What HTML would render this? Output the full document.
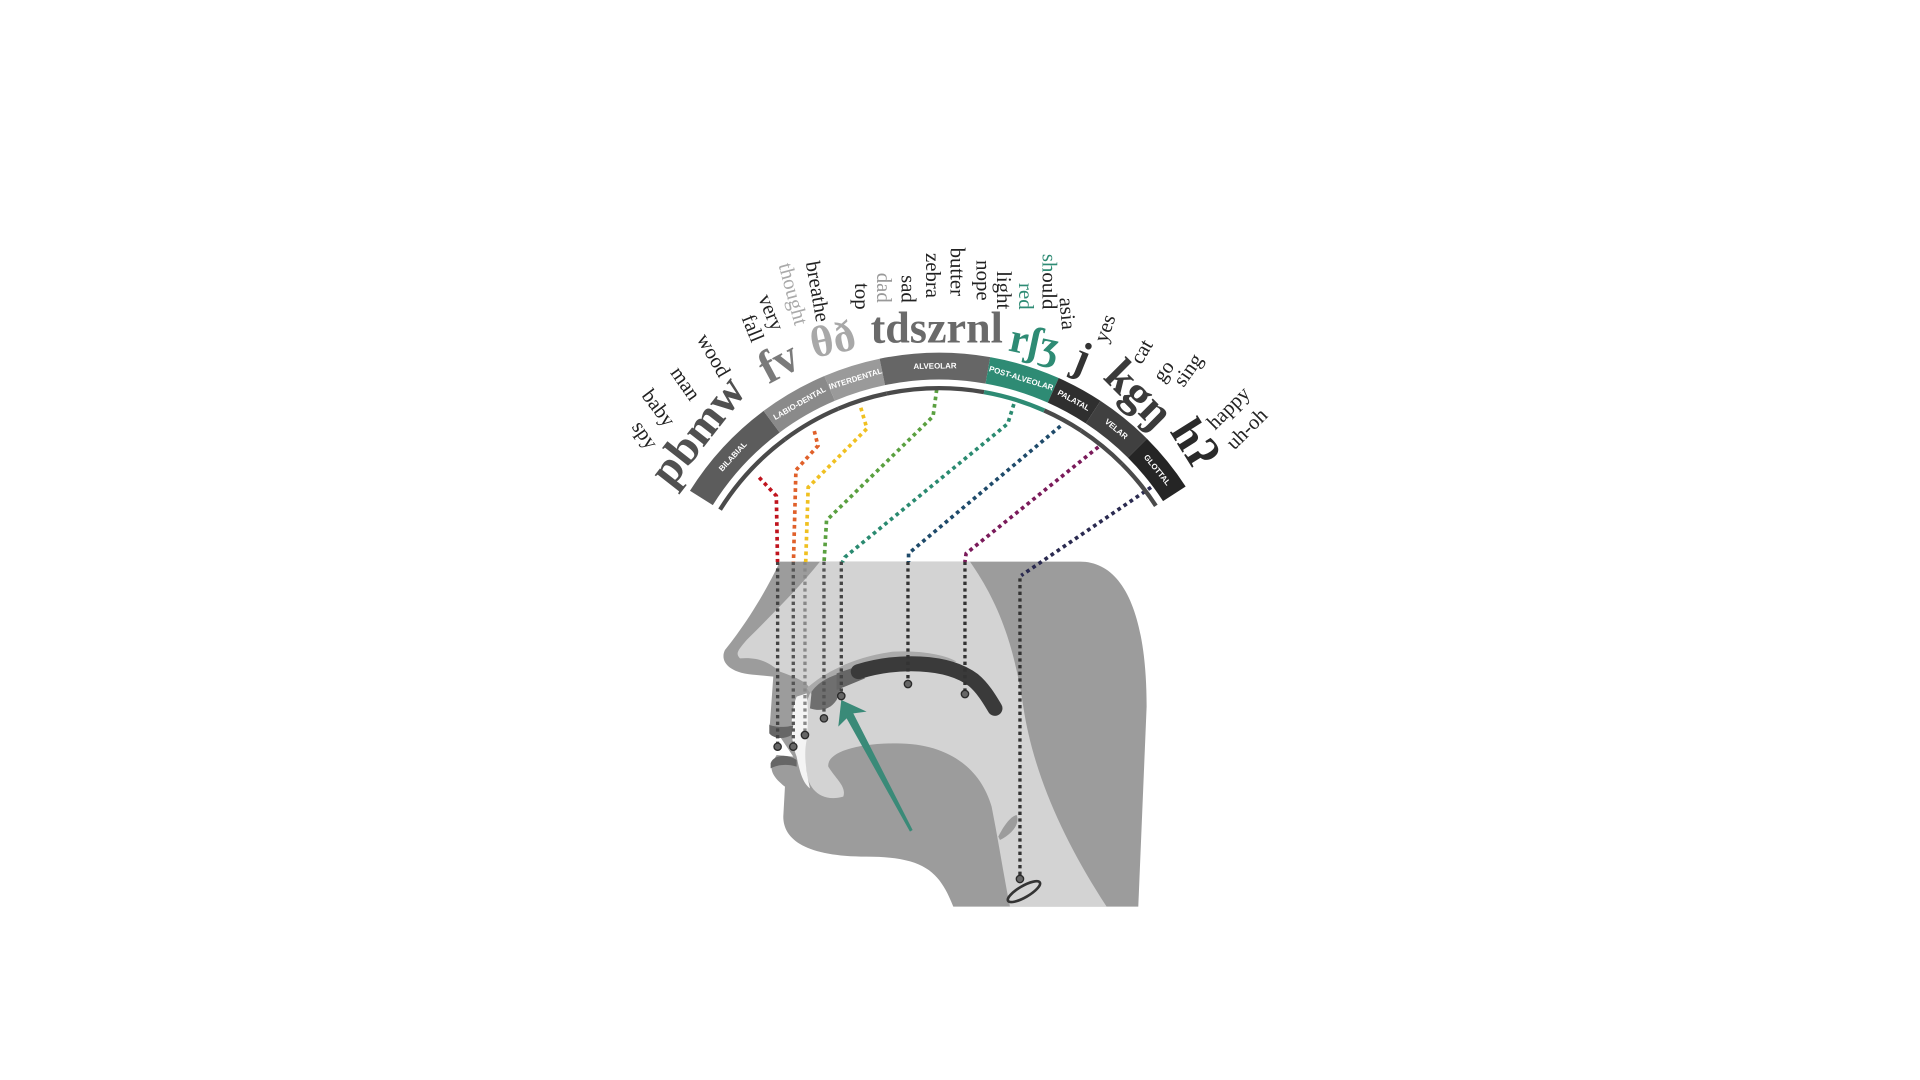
<!DOCTYPE html>
<html><head><meta charset="utf-8"><style>
html,body{margin:0;padding:0;background:#fff;width:1920px;height:1080px;overflow:hidden}
svg{display:block}
</style></head><body>
<svg id="chart" width="1920" height="1080" viewBox="0 0 1568 882" xmlns="http://www.w3.org/2000/svg">
<g id="head" transform="translate(555.3,441) scale(0.27222)">
  <path fill="#9c9c9c" d="M300,65 H1200 C1330,65 1400,220 1400,500 L1375,1100 H820 C780,1000 740,950 560,950 C380,950 310,900 310,830 L315,740 C290,720 270,700 275,670 L290,645 L340,650 L300,590 C270,580 265,560 270,550 L280,410 L230,405 C140,400 120,360 135,330 C200,250 260,150 300,65 Z"/>
  <path fill="#d3d3d3" d="M420,65 H870 C950,180 1000,300 1030,500 C1060,700 1150,900 1280,1100 H990 C970,1000 955,900 935,800 C900,680 800,610 650,610 C520,610 440,640 445,680 C470,720 500,740 490,770 C420,790 380,740 380,690 C350,650 340,600 360,540 L390,460 C400,430 340,410 300,395 C270,370 240,350 180,355 C165,340 175,330 200,300 C280,220 360,140 420,65 Z"/>
  <path fill="#9c9c9c" d="M955,890 C970,860 990,830 1010,825 C1020,850 1000,880 960,900 Z"/>
  <path fill="#f4f4f4" d="M350,470 C330,520 330,600 350,650 C360,700 370,730 390,745 C380,700 370,650 380,600 C385,550 385,500 380,460 Z"/>
  <path fill="#aaaaaa" d="M380,445 C430,400 520,350 640,335 C720,330 800,345 830,365 L560,390 C500,400 440,430 400,470 Z"/>
  <path fill="#6f6f6f" d="M395,455 C420,420 460,405 500,395 L470,480 C450,510 420,515 390,505 Z"/>
  <path fill="#666" d="M470,400 L530,380 L555,415 L470,450 Z"/>
  <path fill="none" stroke="#3a3a3a" stroke-width="45" stroke-linecap="round" d="M535,395 C650,360 800,360 880,420 C910,445 930,480 945,505"/>
  <path fill="#666" d="M268,555 C300,565 330,560 340,555 L335,585 C310,600 280,595 268,580 Z"/>
  <path fill="#666" d="M272,670 C280,645 320,640 350,660 L350,680 C320,670 290,675 272,685 Z"/>
  <path fill="#3a8a78" d="M698,870 L520,520 L560,515 L484,480 L475,560 L500,535 L690,875 Z"/>
  <ellipse cx="1032" cy="1055" rx="55" ry="17" fill="none" stroke="#333" stroke-width="8" transform="rotate(-30 1032 1055)"/>
  <g id="headlines"></g>
</g>
<g id="connectors"></g>
<g id="band"></g>
<g id="labels"></g>
</svg>
<script>
const NS='http://www.w3.org/2000/svg';
const segNames=['BILABIAL','LABIO-DENTAL','INTERDENTAL','ALVEOLAR','POST-ALVEOLAR','PALATAL','VELAR','GLOTTAL'];
const segStart=[148,126.7,113,101.7,80,66,56.7,45];
const segEnd=[126.7,113,101.7,80,66,56.7,45,33];
const segColors=['#5c5c5c','#8a8a8a','#9a9a9a','#666666','#2e8b74','#2f2f2f','#404040','#252525'];
const phonemes=['pbmw','fv','θð','tdszrnl','rʃʒ','j','kgŋ','hʔ'];
const phX=[570,636,680,765,845,884,930,975];
const phY=[352,296,277,268,280,292,322,362];
const phRot=[-52,-28,-12,0,12,22,45,58];
const phSize=[38,38,36,36,34,36,38,38];
const phColor=['#505050','#7a7a7a','#a8a8a8','#6a6a6a','#2e8b74','#333','#3a3a3a','#2a2a2a'];
const words=['spy','baby','man','wood','fall','very','thought','breathe','top','dad','sad','zebra','butter','nope','light','red','should','asia','yes','cat','go','sing','happy','uh-oh'];
const wX=[527,538,560,583,615,630,648,668,704,722,742,762,782,803,820,838,857,872,902,932,950,970,1003,1018];
const wY=[355,333,313,290,268,255,240,238,242,235,236,225,222,229,237,242,230,256,268,287,303,302,333,350];
const wRot=[55,53,55,60,68,68,75,80,90,90,90,90,90,90,90,90,90,85,-70,-60,-55,-55,-45,-45];
const wColor=['#222','#222','#222','#222','#222','#222','#aaa','#222','#222','#999','#222','#222','#222','#222','#222','#2e8b74','#222','#222','#222','#222','#222','#222','#222','#222'];
const cx=767,cy=528,R1=240,R0=218,RL=211;
function pt(r,a){const t=a*Math.PI/180;return [cx+r*Math.cos(t),cy-r*Math.sin(t)];}
function sector(a0,a1){const p1=pt(R1,a0),p2=pt(R1,a1),p3=pt(R0,a1),p4=pt(R0,a0);
return `M${p1} A${R1},${R1} 0 0 1 ${p2} L${p3} A${R0},${R0} 0 0 0 ${p4} Z`;}
const band=document.getElementById('band');
segNames.forEach((n,i)=>{
  const p=document.createElementNS(NS,'path');
  p.setAttribute('d',sector(segStart[i],segEnd[i]));
  p.setAttribute('fill',segColors[i]);
  
  
  band.appendChild(p);
  const l=document.createElementNS(NS,'path');
  const q1=pt(RL,segStart[i]),q2=pt(RL,segEnd[i]);
  l.setAttribute('d',`M${q1} A${RL},${RL} 0 0 1 ${q2}`);
  l.setAttribute('fill','none');l.setAttribute('stroke',i===4?'#2e8b74':'#4a4a4a');l.setAttribute('stroke-width','3.5');
  
  
  band.appendChild(l);
  const m=(segStart[i]+segEnd[i])/2,c=pt(229,m);
  const t=document.createElementNS(NS,'text');
  t.setAttribute('x',c[0]);t.setAttribute('y',c[1]);
  t.setAttribute('text-anchor','middle');t.setAttribute('dominant-baseline','central');
  t.setAttribute('font-family','Liberation Sans, sans-serif');t.setAttribute('font-size','6.5');t.setAttribute('font-weight','bold');
  t.setAttribute('fill','#fff');t.setAttribute('transform',`rotate(${90-m} ${c[0]} ${c[1]})`);
  t.textContent=n;
  
  
  band.appendChild(t);
});
const labels=document.getElementById('labels');
phonemes.forEach((s,i)=>{
  const t=document.createElementNS(NS,'text');
  t.setAttribute('x',phX[i]);t.setAttribute('y',phY[i]);
  t.setAttribute('text-anchor','middle');t.setAttribute('dominant-baseline','central');
  t.setAttribute('transform',`rotate(${phRot[i]} ${phX[i]} ${phY[i]})`);
  t.setAttribute('font-family','Liberation Serif, DejaVu Serif, serif');t.setAttribute('font-weight','bold');
  t.setAttribute('font-size',phSize[i]);t.setAttribute('fill',phColor[i]);
  t.textContent=s;
  
  
  labels.appendChild(t);
});
words.forEach((w,i)=>{
  const t=document.createElementNS(NS,'text');
  t.setAttribute('x',wX[i]);t.setAttribute('y',wY[i]);
  t.setAttribute('text-anchor','middle');t.setAttribute('dominant-baseline','central');
  t.setAttribute('transform',`rotate(${wRot[i]} ${wX[i]} ${wY[i]})`);
  t.setAttribute('font-family','Liberation Serif, serif');t.setAttribute('font-size','17');t.setAttribute('fill',wColor[i]);
  if(w==='should'){t.innerHTML='<tspan fill="#2e8b74">sh</tspan>ould';}else{t.textContent=w;}
  
  
  labels.appendChild(t);
});
const connColors=['#c0141e','#e0602a','#f0c020','#5aa040','#2a8a70','#1e4a6a','#7a1a5a','#2a2a50'];
const connPts=[
 [[620,390],[634,405],[635,459]],
 [[665,352],[668,364],[650,384],[648,459]],
 [[703,333],[708,350],[660,398],[658,459]],
 [[765,318],[762,340],[675,425],[673,459]],
 [[828,330],[823,346],[690,455],[688,459]],
 [[866,348],[742,452],[742,459]],
 [[897,365],[789,452],[788,459]],
 [[940,398],[834,470]]];
const conn=document.getElementById('connectors');
connPts.forEach((ps,i)=>{
  const p=document.createElementNS(NS,'polyline');
  p.setAttribute('points',ps.map(q=>q.join(',')).join(' '));
  p.setAttribute('fill','none');p.setAttribute('stroke',connColors[i]);p.setAttribute('stroke-width','3');p.setAttribute('stroke-dasharray','3 3');
  
  
  conn.appendChild(p);
});
const hl=document.getElementById('headlines');
const hx=[293,340,375,432,484,684,855,1020];
const hTop=[65,65,65,65,65,65,65,115];
const hBot=[620,620,585,535,468,432,462,1017];
const hCol=['#444','#555','#888','#555','#444','#333','#333','#333'];
hx.forEach((x,i)=>{
  const l=document.createElementNS(NS,'line');
  l.setAttribute('x1',x);l.setAttribute('x2',x);l.setAttribute('y1',hTop[i]);l.setAttribute('y2',hBot[i]);
  l.setAttribute('stroke',hCol[i]);l.setAttribute('stroke-width','10');l.setAttribute('stroke-dasharray','10 10');
  
  
  hl.appendChild(l);
  const c=document.createElementNS(NS,'circle');
  c.setAttribute('cx',x);c.setAttribute('cy',hBot[i]);c.setAttribute('r','11');
  c.setAttribute('fill','#666');c.setAttribute('stroke','#2a2a2a');c.setAttribute('stroke-width','4');
  
  
  hl.appendChild(c);
});
</script>
</body></html>
